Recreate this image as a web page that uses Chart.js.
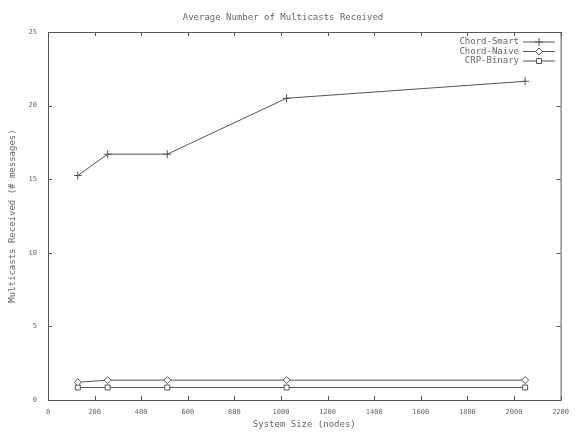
<!DOCTYPE html>
<html>
<head>
<meta charset="utf-8">
<script src="https://cdn.jsdelivr.net/npm/chart.js@4/dist/chart.umd.min.js"></script>
<style>
  html, body { margin: 0; padding: 0; background: #fff; }
  #wrap { width: 577px; height: 432px; }
</style>
</head>
<body>
<div id="wrap"><canvas id="chart" width="577" height="432"></canvas></div>
<script>
const systemSizes = [128, 256, 512, 1024, 2048];
const chordSmart = [15.25, 16.7, 16.7, 20.5, 21.65];
const chordNaive = [1.2, 1.35, 1.35, 1.35, 1.35];
const crpBinary = [0.85, 0.85, 0.85, 0.85, 0.85];
const xTicks = [0, 200, 400, 600, 800, 1000, 1200, 1400, 1600, 1800, 2000, 2200];
const yTicks = [0, 5, 10, 15, 20, 25];

const ink = "#555";
const textInk = "#666";
const mono = "'DejaVu Sans Mono', 'Liberation Mono', monospace";

function pts(ys) {
  return systemSizes.map((x, i) => ({ x, y: ys[i] }));
}

// gnuplot style frame, inward ticks and key on the right
const framePlugin = {
  id: "frame",
  afterDraw(chart) {
    const { ctx, chartArea: a, scales } = chart;
    ctx.save();
    ctx.strokeStyle = ink;
    ctx.lineWidth = 1;
    ctx.strokeRect(a.left + 0.5, a.top + 0.5, a.right - a.left, a.bottom - a.top);
    ctx.beginPath();
    xTicks.forEach(v => {
      const x = Math.round(scales.x.getPixelForValue(v)) + 0.5;
      ctx.moveTo(x, a.bottom); ctx.lineTo(x, a.bottom - 4);
      ctx.moveTo(x, a.top); ctx.lineTo(x, a.top + 4);
    });
    yTicks.forEach(v => {
      const y = Math.round(scales.y.getPixelForValue(v)) + 0.5;
      ctx.moveTo(a.left, y); ctx.lineTo(a.left + 4, y);
      ctx.moveTo(a.right, y); ctx.lineTo(a.right - 4, y);
    });
    ctx.stroke();

    // key
    ctx.font = "9px " + mono;
    ctx.textAlign = "right";
    ctx.textBaseline = "middle";
    chart.data.datasets.forEach((ds, i) => {
      const y = a.top + 10 + i * 9.5;
      ctx.fillStyle = textInk;
      ctx.fillText(ds.label, 519, y);
      ctx.strokeStyle = ink;
      ctx.beginPath();
      ctx.moveTo(523, y); ctx.lineTo(555, y);
      ctx.stroke();
      ctx.fillStyle = "#fff";
      Chart.helpers.drawPoint(ctx, {
        pointStyle: ds.pointStyle, radius: ds.pointRadius, borderWidth: 1
      }, 539, y);
    });
    ctx.restore();
  }
};

new Chart(document.getElementById("chart"), {
  type: "line",
  data: {
    datasets: [
      { label: "Chord-Smart", data: pts(chordSmart), pointStyle: "cross", pointRadius: 4 },
      { label: "Chord-Naive", data: pts(chordNaive), pointStyle: "rectRot", pointRadius: 3.5 },
      { label: "CRP-Binary", data: pts(crpBinary), pointStyle: "rect", pointRadius: 3.5 }
    ].map(d => Object.assign(d, {
      borderColor: ink, backgroundColor: "rgba(0,0,0,0)", borderWidth: 1,
      pointBorderColor: ink, pointBackgroundColor: "#fff", pointBorderWidth: 1, tension: 0
    }))
  },
  options: {
    responsive: false,
    animation: false,
    layout: { padding: { left: 0, right: 11, top: 0, bottom: 0 } },
    plugins: {
      legend: { display: false },
      tooltip: { enabled: false },
      title: {
        display: true,
        text: "Average Number of Multicasts Received",
        color: textInk,
        font: { family: mono, size: 9, weight: "normal" },
        padding: { top: 12, bottom: 9.2 }
      }
    },
    scales: {
      x: {
        type: "linear", min: 0, max: 2200,
        afterBuildTicks: s => { s.ticks = xTicks.map(v => ({ value: v })); },
        afterFit: s => { s.height = 32; },
        grid: { display: false, drawTicks: false },
        border: { display: false },
        ticks: {
          color: textInk, font: { family: mono, size: 7 }, padding: 8, maxRotation: 0,
          callback: v => String(v)
        },
        title: {
          display: true, text: "System Size (nodes)", color: textInk,
          font: { family: mono, size: 9 }, padding: { top: 0, bottom: 2 }
        }
      },
      y: {
        type: "linear", min: 0, max: 25,
        afterBuildTicks: s => { s.ticks = yTicks.map(v => ({ value: v })); },
        afterFit: s => { s.width = 48; },
        grid: { display: false, drawTicks: false },
        border: { display: false },
        ticks: { color: textInk, font: { family: mono, size: 7 }, padding: 11, callback: v => String(v) },
        title: {
          display: true, text: "Multicasts Received (# messages)", color: textInk,
          font: { family: mono, size: 9 }, padding: { top: 7, bottom: 0 }
        }
      }
    }
  },
  plugins: [framePlugin]
});
</script>
</body>
</html>
